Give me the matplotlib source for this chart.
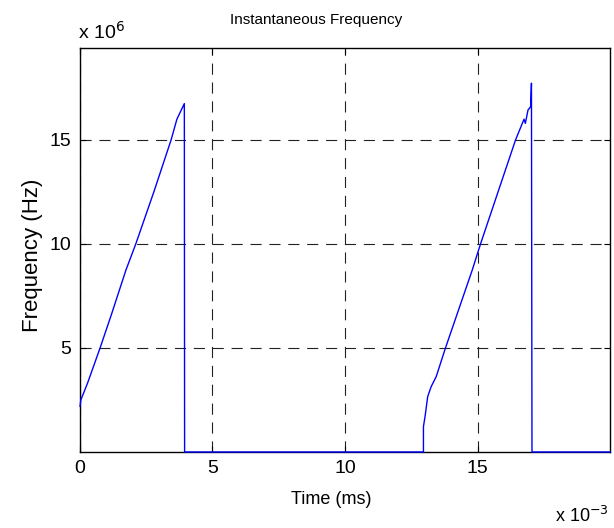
import numpy as np
import matplotlib
matplotlib.use("Agg")
import matplotlib.pyplot as plt

plt.rcParams['font.family'] = ['Liberation Sans', 'DejaVu Sans']

# Instantaneous frequency trace, time in ms, frequency in MHz
time_ms = [0.02, 0.05, 0.3, 0.775, 1.2, 1.75, 2.12, 2.8, 3.45, 3.67, 3.95, 3.96,
           12.96, 12.96, 13.02, 13.12, 13.25, 13.44, 13.79, 14.8, 15.11, 16.43,
           16.75, 16.80, 16.9, 17.0, 17.03, 17.05, 20.0]
freq_mhz = [2.2, 2.5, 3.3, 5.0, 6.6, 8.75, 10.0, 12.5, 15.0, 16.0, 16.75, 0.0,
            0.0, 1.22, 1.7, 2.66, 3.14, 3.62, 5.0, 8.75, 10.0, 15.0,
            16.0, 15.8, 16.44, 16.6, 17.73, 0.0, 0.0]

x_ticks = [0, 5, 10, 15]
y_ticks = [5, 10, 15]

t = np.array(time_ms) * 1e-3
f = np.array(freq_mhz) * 1e6

fig = plt.figure(figsize=(6.14, 5.28), dpi=100)
ax = fig.add_axes([0.1295, 0.144, 0.864, 0.765])

ax.plot(t, f, color='#0000ff', lw=1.0, clip_on=False, zorder=3)

ax.set_xlim(0, 0.01999)
ax.set_ylim(0, 19.42e6)
ax.set_xticks([v * 1e-3 for v in x_ticks])
ax.set_xticklabels([str(v) for v in x_ticks])
ax.set_yticks([v * 1e6 for v in y_ticks])
ax.set_yticklabels([str(v) for v in y_ticks])
ax.tick_params(direction='in', length=4, width=0.8, labelsize=14,
               top=True, right=True, colors='black', pad=6)

ax.grid(True, color='#222222', linestyle=(0, (10, 7)), linewidth=0.8)
for s in ax.spines.values():
    s.set_linewidth(1.0)
    s.set_color('black')

fig.text(316 / 614, 1 - 20 / 528, 'Instantaneous Frequency', ha='center',
         va='center', fontsize=11)
fig.text(331 / 614, 1 - 500 / 528, 'Time (ms)', ha='center', va='center',
         fontsize=13)
fig.text(33 / 614, 1 - 255 / 528, 'Frequency (Hz)', ha='center', va='center',
         rotation=90, fontsize=16)
fig.text(78 / 614, 1 - 32 / 528, r'x 10$^{6}$', ha='left', va='center',
         fontsize=14)
fig.text(609 / 614, 1 - 516 / 528, r'x 10$^{-3}$', ha='right', va='center',
         fontsize=13)

fig.savefig('out.png', dpi=100)
